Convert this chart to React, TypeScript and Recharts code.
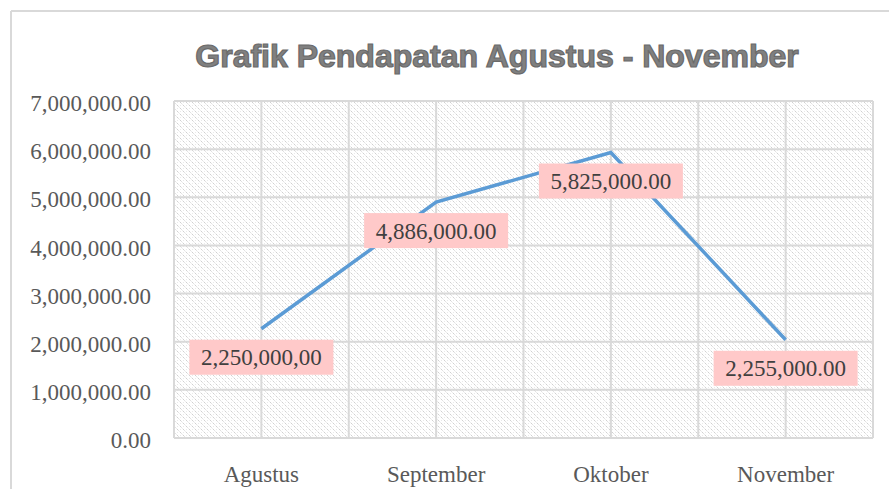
import { CartesianGrid, ComposedChart, LabelList, Line, XAxis, YAxis } from "recharts";

const months = ["Agustus", "September", "Oktober", "November"];
const income = [2270000, 4900000, 5930000, 2040000];
const labelTexts = ["2,250,000,00", "4,886,000.00", "5,825,000.00", "2,255,000.00"];
const yTicks = [0, 1000000, 2000000, 3000000, 4000000, 5000000, 6000000, 7000000];

const data = months.map((month, i) => ({ month, income: income[i], label: labelTexts[i] }));

const serif = "'Liberation Serif', 'Times New Roman', serif";

const W = 889;
const H = 489;
const yAxisW = 174;
const rightM = 16;
// half a category on each side, so points sit in the middle of their slots
const halfSlot = (W - yAxisW - rightM) / (months.length * 2);

const fmt = (v: number) =>
  v.toLocaleString("en-US", { minimumFractionDigits: 2, maximumFractionDigits: 2 });

const renderLabel = (props: any) => {
  const { x, y, value } = props;
  const w = 144;
  const h = 35;
  return (
    <g>
      <rect x={x - w / 2} y={y + 11} width={w} height={h} fill="#ffc9c9" />
      <text
        x={x}
        y={y + 11 + h / 2}
        dy="0.35em"
        textAnchor="middle"
        fontFamily={serif}
        fontSize={23}
        fill="#404040"
      >
        {value}
      </text>
    </g>
  );
};

export default function App() {
  return (
    <div style={{ position: "absolute", left: 0, top: 0, width: W, height: H, background: "#fff" }}>
      <svg width={W} height={H} style={{ position: "absolute", left: 0, top: 0 }}>
        <line x1={11} y1={11} x2={W} y2={11} stroke="#d9d9d9" strokeWidth={2} />
        <line x1={11} y1={11} x2={11} y2={H} stroke="#d9d9d9" strokeWidth={2} />
        <text
          x={497}
          y={67}
          textAnchor="middle"
          fontFamily="'Liberation Sans', Arial, sans-serif"
          fontWeight="bold"
          fontSize={32}
          fill="#808080"
          stroke="#6a6a6a"
          strokeWidth={1.2}
        >
          Grafik Pendapatan Agustus - November
        </text>
      </svg>
      <div style={{ position: "absolute", left: 0, top: 0 }}>
        <ComposedChart
          width={W}
          height={H}
          data={data}
          margin={{ top: 101, right: rightM, bottom: 0, left: 0 }}
        >
          <defs>
            <pattern id="hatch" width="6" height="6" patternUnits="userSpaceOnUse">
              <rect width="6" height="6" fill="#ffffff" />
              <rect x="0" y="0" width="1" height="1" fill="#d0d0d0" />
              <rect x="1" y="1" width="1" height="1" fill="#e2e2e2" />
              <rect x="2" y="2" width="1" height="1" fill="#ececec" />
              <rect x="3" y="3" width="1" height="1" fill="#d0d0d0" />
              <rect x="4" y="4" width="1" height="1" fill="#e2e2e2" />
              <rect x="5" y="5" width="1" height="1" fill="#ececec" />
              <rect x="3" y="0" width="1" height="1" fill="#eaeaea" />
              <rect x="0" y="3" width="1" height="1" fill="#eaeaea" />
            </pattern>
          </defs>
          <CartesianGrid
            fill="url(#hatch)"
            fillOpacity={1}
            stroke="#d9d9d9"
            strokeWidth={2}
            verticalCoordinatesGenerator={({ offset }: any) =>
              Array.from({ length: months.length * 2 + 1 }, (_, i) => offset.left + (i * offset.width) / (months.length * 2))
            }
          />
          <XAxis
            dataKey="month"
            height={51}
            padding={{ left: halfSlot, right: halfSlot }}
            axisLine={false}
            tickLine={false}
            tickSize={0}
            tickMargin={28}
            interval={0}
            tick={{ fontFamily: serif, fontSize: 23, fill: "#595959" }}
          />
          <YAxis
            width={yAxisW}
            domain={[0, 7000000]}
            ticks={yTicks}
            axisLine={false}
            tickLine={false}
            tickSize={0}
            tickMargin={23}
            tickFormatter={fmt}
            tick={{ fontFamily: serif, fontSize: 23, fill: "#595959", dy: 2 }}
          />
          <Line
            type="linear"
            dataKey="income"
            stroke="#5b9bd5"
            strokeWidth={3.5}
            dot={false}
            activeDot={false}
            isAnimationActive={false}
          >
            <LabelList dataKey="label" content={renderLabel} />
          </Line>
        </ComposedChart>
      </div>
    </div>
  );
}
